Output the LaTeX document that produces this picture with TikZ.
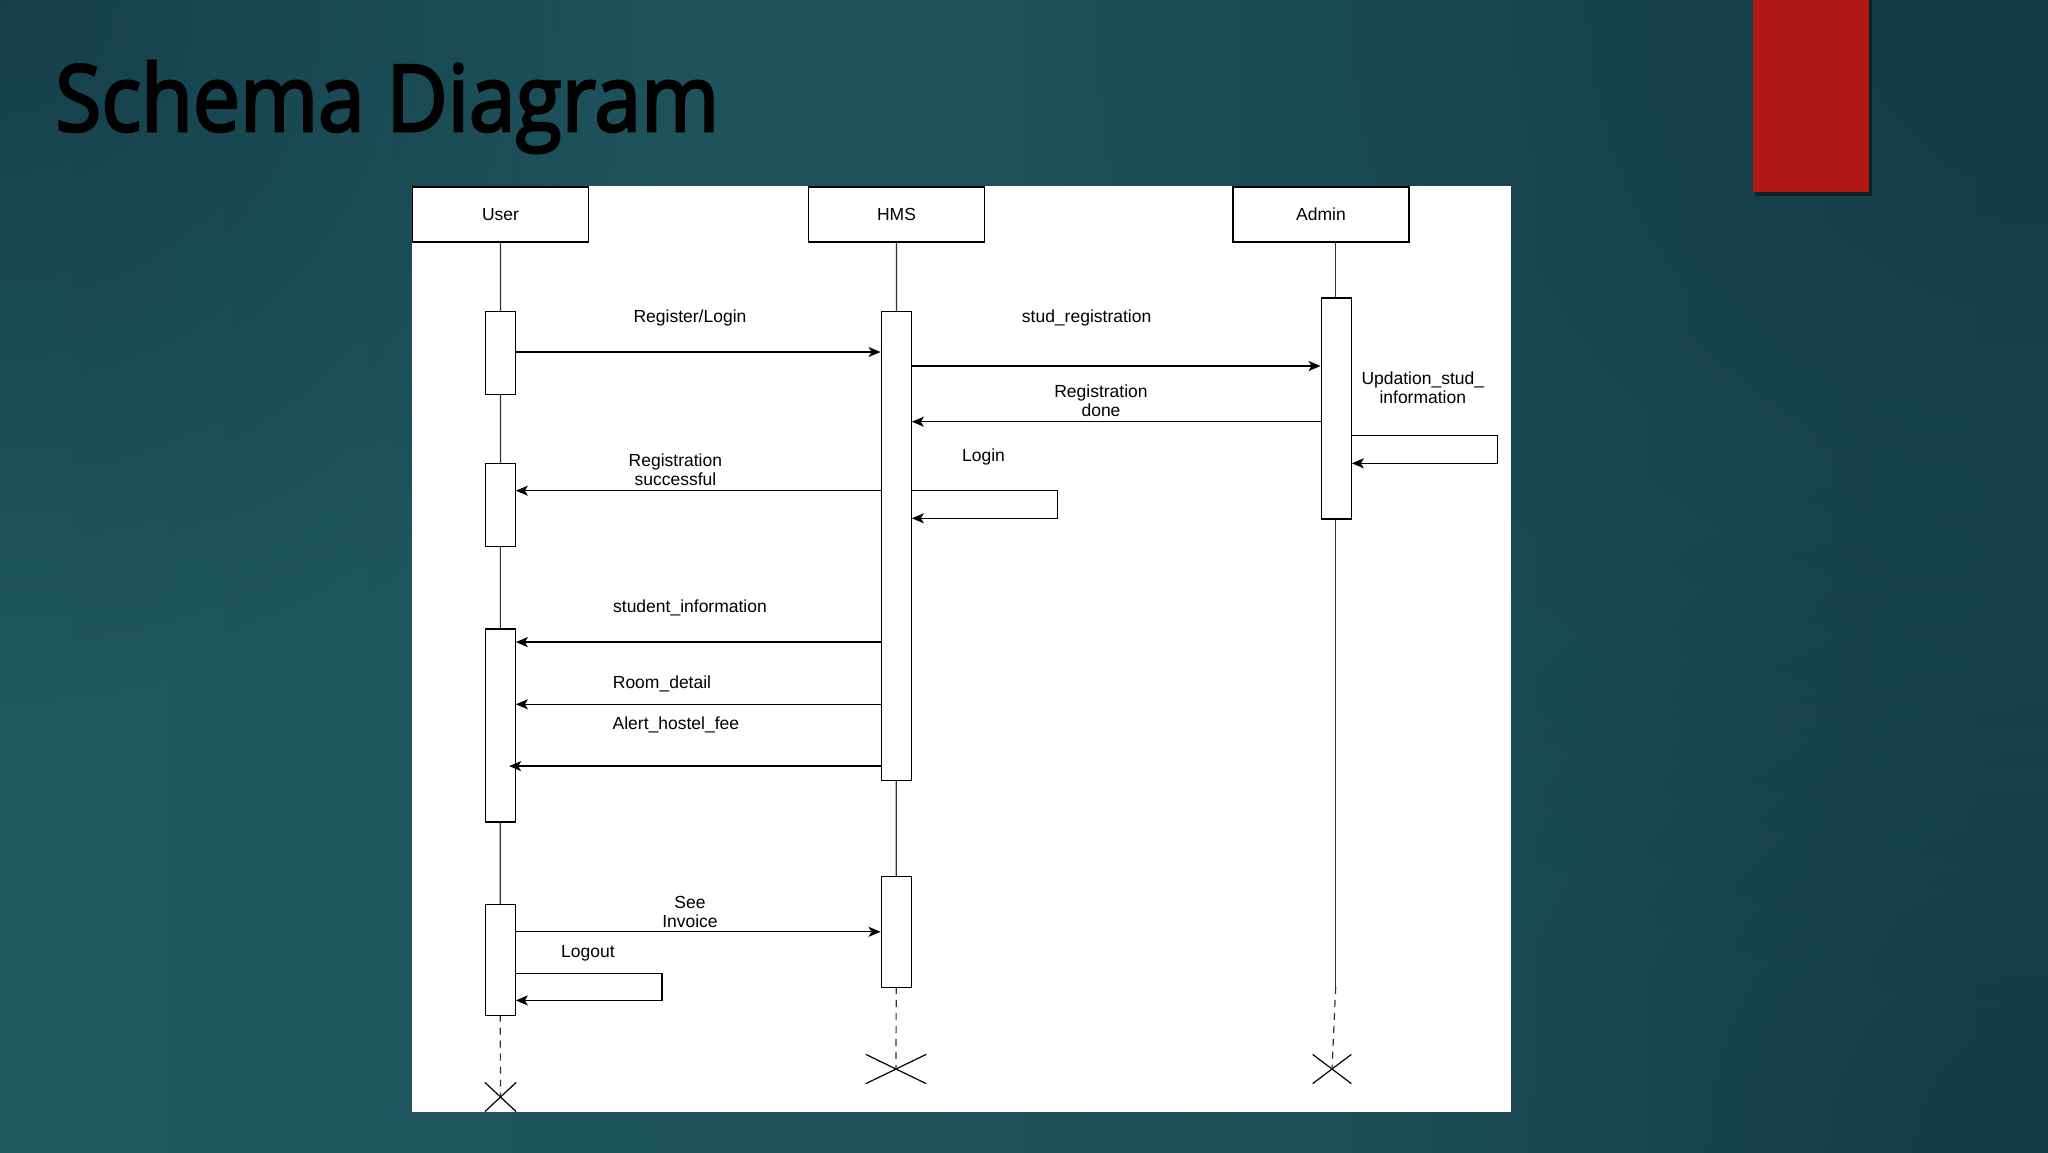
\documentclass[tikz,border=0pt]{standalone}
\usepackage{fontspec}
\setmainfont{Liberation Sans}
\newfontfamily\titlefont{Open Sans}[FakeBold=3]
\usetikzlibrary{arrows.meta,shapes.misc,fadings}
\definecolor{bgL}{RGB}{32,88,97}
\definecolor{bgM}{RGB}{42,99,104}
\definecolor{bgR}{RGB}{26,74,84}
\definecolor{bgdark}{RGB}{14,46,60}
\definecolor{redbar}{RGB}{176,24,21}
\tikzfading[name=softspot, inner color=transparent!40, outer color=transparent!100]
\begin{document}
\begin{tikzpicture}[x=1pt,y=-1pt,
  lbl/.style={font=\fontsize{17.5}{19}\selectfont, align=center, inner sep=0pt},
  actor/.style={draw, fill=white, line width=1.3pt, minimum width=176pt, minimum height=55pt, inner sep=0pt, font=\fontsize{17.5}{19}\selectfont},
  act/.style={draw, fill=white, line width=1.3pt, minimum width=30pt, inner sep=0pt, anchor=north},
  life/.style={line width=1.2pt, black!80},
  lifedash/.style={line width=1.2pt, black!80, dash pattern=on 7pt off 6pt},
  msg/.style={line width=1.3pt, -{Stealth[length=12pt,width=10pt,inset=3pt]}},
  endx/.style={cross out, draw, line width=1.2pt, inner sep=0pt}
]
\useasboundingbox (0,0) rectangle (2048,1152);
% background
\shade[left color=bgL, middle color=bgM, right color=bgR] (0,0) rectangle (2048,1152);
\fill[bgdark, path fading=softspot] (2048,0) circle (1000);
\fill[bgdark, path fading=softspot] (0,0) circle (700);
\fill[bgdark, path fading=softspot] (2048,1152) circle (700);
% red bar with shadow
\fill[black, opacity=0.45] (1755,0) rectangle (1872,196);
\fill[redbar] (1753,0) rectangle (1869,192);
% title
\node[anchor=base west, inner sep=0pt, text=black] (title) at (55,131)
  {\resizebox{664pt}{\height}{\titlefont\fontsize{92}{92}\selectfont Schema Diagram}};
% white panel
\fill[white] (412,186) rectangle (1511,1112);

% actors
\node[actor] (user) at (500.5,214.5) {User};
\node[actor] (hms) at (896.5,214.5) {HMS};
\node[actor] (admin) at (1321,214.5) {Admin};

% end markers
\node[endx, minimum width=30pt, minimum height=28pt] (ux) at (500.5,1097) {};
\node[endx, minimum width=59pt, minimum height=28pt] (hx) at (896,1069) {};
\node[endx, minimum width=37.5pt, minimum height=28pt] (ax) at (1332,1069) {};

% lifeline helper coordinates
\coordinate (uend) at (500.2,1014.6);
\coordinate (hend) at (896.2,986.8);
\coordinate (atop) at (1335.7,242);
\coordinate (aend) at (1335.7,986.8);

% lifelines (behind activations)
\draw[life] (user.south) -- (uend);
\draw[lifedash] (uend) -- (ux.center);
\draw[life] (hms.south) -- (hend);
\draw[lifedash] (hend) -- (hx.center);
\draw[life] (atop) -- (aend);
\draw[lifedash] (aend) -- (ax.center);

% activations
\node[act, minimum height=83pt] (u1) at (500.2,311) {};
\node[act, minimum height=83pt] (u2) at (500.2,462.7) {};
\node[act, minimum height=193.2pt] (u3) at (500.2,628.2) {};
\node[act, minimum height=110.6pt] (u4) at (500.2,904) {};
\node[act, minimum height=469pt] (h1) at (896.2,311) {};
\node[act, minimum height=110.8pt] (h2) at (896.2,876) {};
\node[act, minimum height=221pt] (a1) at (1336.2,297.3) {};
\coordinate (u3in) at ([xshift=-6.7pt]u3.east);

% messages
\draw[msg] (u1.east |- 0,352) -- (h1.west |- 0,352);
\node[lbl] (l1) at (690,318) {Register/Login};

\draw[msg] (h1.east |- 0,366) -- (a1.west |- 0,366);
\node[lbl] (l2) at (1086.6,318.3) {stud\_registration};

\draw[msg] (a1.west |- 0,421.7) -- (h1.east |- 0,421.7);
\node[lbl] (l3) at (1101,401.2) {Registration\\done};

\draw[msg] (a1.east |- 0,435.7) -| (1497.3,450) |- (a1.east |- 0,463.3);
\node[lbl] (l4) at (1422.8,387.8) {Updation\_stud\_\\information};

\draw[msg] (h1.west |- 0,490.7) -- (u2.east |- 0,490.7);
\node[lbl] (l5) at (675.4,469.9) {Registration\\successful};

\draw[msg] (h1.east |- 0,490.7) -| (1057.6,505) |- (h1.east |- 0,518.3);
\node[lbl] (l6) at (983.5,456.7) {Login};

\draw[msg] (h1.west |- 0,642.1) -- (u3.east |- 0,642.1);
\node[lbl] (l7) at (690,608.2) {student\_information};

\draw[msg] (h1.west |- 0,704.3) -- (u3.east |- 0,704.3);
\node[lbl] (l8) at (662,683.9) {Room\_detail};

\draw[msg] (h1.west |- 0,766.1) -- (u3in |- 0,766.1);
\node[lbl] (l9) at (675.9,725) {Alert\_hostel\_fee};

\draw[msg] (u4.east |- 0,931.8) -- (h2.west |- 0,931.8);
\node[lbl] (l10) at (690,911.6) {See\\Invoice};

\draw[msg] (u4.east |- 0,973.2) -| (662,987) |- (u4.east |- 0,1000.4);
\node[lbl] (l11) at (588,952.9) {Logout};
\end{tikzpicture}
\end{document}
